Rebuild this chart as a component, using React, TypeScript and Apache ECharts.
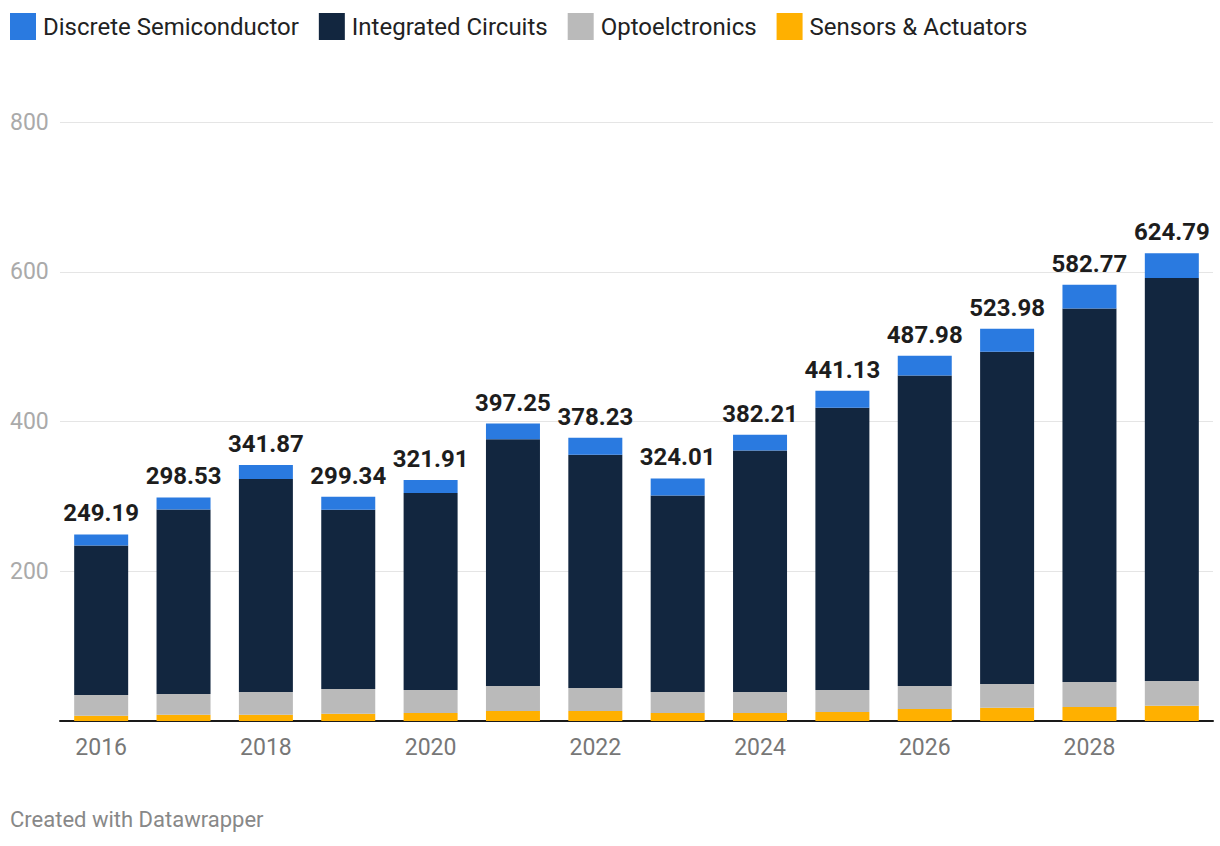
import React, { useEffect, useRef } from "react";
import * as echarts from "echarts";

const years = ["2016","2017","2018","2019","2020","2021","2022","2023","2024","2025","2026","2027","2028","2029"];
const totals = [249.19, 298.53, 341.87, 299.34, 321.91, 397.25, 378.23, 324.01, 382.21, 441.13, 487.98, 523.98, 582.77, 624.79];
const sensors = [7.0, 8.4, 8.4, 9.8, 10.7, 13.3, 13.3, 10.7, 10.7, 12.0, 16.0, 17.8, 18.7, 20.4];
const opto = [27.7, 27.6, 30.3, 32.9, 30.6, 33.4, 30.7, 28.0, 28.0, 29.3, 30.7, 31.5, 33.3, 33.0];
const discrete = [14.7, 16.0, 18.7, 17.3, 17.3, 21.0, 22.7, 22.7, 21.0, 22.7, 26.7, 30.7, 32.0, 33.0];
const integrated = totals.map((t, i) => +(t - sensors[i] - opto[i] - discrete[i]).toFixed(2));

const FONT = "Roboto, 'Noto Sans', sans-serif";

export default function App() {
  const ref = useRef<HTMLDivElement>(null);
  useEffect(() => {
    if (!ref.current) return;
    const chart = echarts.init(ref.current, null, { renderer: "svg" });
    chart.setOption({
      animation: false,
      textStyle: { fontFamily: FONT },
      legend: {
        left: 10,
        top: 13,
        padding: 0,
        itemWidth: 26,
        itemHeight: 27,
        itemGap: 20,
        icon: "rect",
        data: ["Discrete Semiconductor", "Integrated Circuits", "Optoelctronics", "Sensors & Actuators"],
        textStyle: { fontSize: 24, color: "#222", fontFamily: FONT, padding: [0, 0, 0, 2] },
      },
      grid: { left: 60, right: 7, top: 122, bottom: 125 },
      xAxis: {
        type: "category",
        data: years,
        axisLine: { lineStyle: { color: "#1a1a1a", width: 2 } },
        axisTick: { show: false },
        axisLabel: { interval: 1, fontSize: 23, color: "#777", margin: 15, fontFamily: FONT },
      },
      yAxis: {
        type: "value",
        min: 0,
        max: 800,
        interval: 200,
        axisLine: { show: false },
        axisTick: { show: false },
        splitLine: { lineStyle: { color: "#e5e5e5", width: 1 } },
        axisLabel: {
          fontSize: 23,
          color: "#aaa",
          align: "left",
          margin: 50,
          fontFamily: FONT,
          formatter: (v: number) => (v === 0 ? "" : String(v)),
        },
      },
      series: [
        { name: "Sensors & Actuators", type: "bar", stack: "s", barWidth: 54, data: sensors, itemStyle: { color: "#ffb000" } },
        { name: "Optoelctronics", type: "bar", stack: "s", barWidth: 54, data: opto, itemStyle: { color: "#bababa" } },
        { name: "Integrated Circuits", type: "bar", stack: "s", barWidth: 54, data: integrated, itemStyle: { color: "#12263f" } },
        {
          name: "Discrete Semiconductor",
          type: "bar",
          stack: "s",
          barWidth: 54,
          data: discrete,
          itemStyle: { color: "#2a7ae0" },
          label: {
            show: true,
            position: "top",
            distance: 9,
            fontSize: 24,
            fontWeight: "bold",
            color: "#1d1d1d",
            fontFamily: FONT,
            formatter: (p: any) => totals[p.dataIndex].toFixed(2),
          },
        },
      ],
      graphic: [
        {
          type: "text",
          left: 10,
          top: 808,
          style: { text: "Created with Datawrapper", fontSize: 22, fill: "#888", fontFamily: FONT },
        },
      ],
    });
    return () => chart.dispose();
  }, []);
  return <div ref={ref} style={{ position: "fixed", left: 0, top: 0, width: 1220, height: 846, background: "#fff" }} />;
}
